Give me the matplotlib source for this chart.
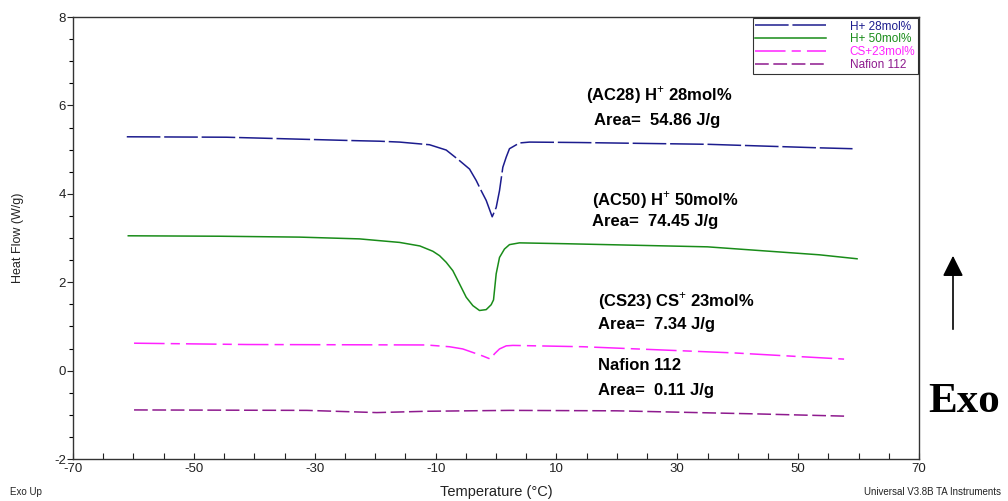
import matplotlib
matplotlib.use("Agg")
import matplotlib.pyplot as plt

# DSC heat-flow traces (temperature in degC, heat flow in W/g)
h28_temp = [-61.1, -44.6, -22.6, -19.3, -15.95, -11.0, -8.24, -6.03, -4.38, -3.27, -2.45, -1.62,
            -0.63, 0.03, 0.58, 1.13, 1.69, 2.23, 3.88, 5.54, 13.8, 35.0, 53.5, 59.0]
h28_flow = [5.29, 5.28, 5.20, 5.19, 5.17, 5.11, 4.99, 4.75, 4.56, 4.30, 4.07, 3.85,
            3.48, 3.69, 4.07, 4.60, 4.83, 5.02, 5.15, 5.17, 5.16, 5.12, 5.04, 5.02]

h50_temp = [-60.85, -45.7, -32.5, -22.6, -19.3, -15.95, -12.6, -10.45, -9.34, -8.24, -7.14, -6.03,
            -4.93, -3.83, -2.73, -1.62, -0.8, -0.41, 0.03, 0.58, 1.4, 2.23, 3.88, 11.7, 35.0, 53.5, 59.75]
h50_flow = [3.05, 3.04, 3.02, 2.98, 2.94, 2.90, 2.82, 2.70, 2.60, 2.45, 2.26, 1.96,
            1.66, 1.47, 1.36, 1.38, 1.49, 1.60, 2.19, 2.56, 2.75, 2.85, 2.89, 2.87, 2.80, 2.62, 2.53]

cs23_temp = [-59.9, -41.2, -11.55, -7.7, -5.5, -3.83, -2.18, -0.91, -0.25, 0.58, 1.69, 2.78, 14.4, 39.4, 57.6]
cs23_flow = [0.62, 0.59, 0.58, 0.54, 0.49, 0.41, 0.33, 0.26, 0.38, 0.49, 0.56, 0.57, 0.54, 0.40, 0.26]

nafion_temp = [-59.9, -31.3, -19.75, -11.5, 2.2, 20.0, 43.2, 57.6]
nafion_flow = [-0.89, -0.90, -0.95, -0.92, -0.90, -0.91, -0.98, -1.03]

series_labels = ["H+ 28mol%", "H+ 50mol%", "CS+23mol%", "Nafion 112"]
series_colors = ["#1c1c8e", "#198c19", "#ff22ff", "#8e1a8e"]

annotations = [
    ("(AC28) H$^{+}$ 28mol%", "Area=  54.86 J/g"),
    ("(AC50) H$^{+}$ 50mol%", "Area=  74.45 J/g"),
    ("(CS23) CS$^{+}$ 23mol%", "Area=  7.34 J/g"),
    ("Nafion 112", "Area=  0.11 J/g"),
]

plt.rcParams["font.family"] = ["Liberation Sans", "DejaVu Sans"]
plt.rcParams["mathtext.fontset"] = "custom"
plt.rcParams["mathtext.rm"] = "Liberation Sans"
plt.rcParams["mathtext.bf"] = "Liberation Sans:bold"
plt.rcParams["axes.unicode_minus"] = False

fig = plt.figure(figsize=(10.08, 5.01), dpi=100)
ax = fig.add_axes([73 / 1008, 1 - 459 / 501, (919 - 73) / 1008, (459 - 17) / 501])

styles = [(0, (22, 2.5)), "-", (0, (20, 4, 6, 4)), (0, (9, 3))]
data = [(h28_temp, h28_flow), (h50_temp, h50_flow), (cs23_temp, cs23_flow), (nafion_temp, nafion_flow)]
for (t, f), lab, col, ls in zip(data, series_labels, series_colors, styles):
    ax.plot(t, f, color=col, lw=1.1, ls=ls, label=lab)

ax.set_xlim(-70, 70)
ax.set_ylim(-2, 8)
ax.set_xticks(range(-70, 71, 20))
ax.set_xticks(range(-70, 71, 5), minor=True)
ax.set_yticks(range(-2, 9, 2))
ax.set_yticks([v / 2 for v in range(-4, 17)], minor=True)
ax.tick_params(axis="x", which="both", direction="in", length=4, width=0.8, labelsize=9.5, pad=3, colors="#222222")
ax.tick_params(axis="y", which="major", direction="out", length=4, width=0.8, labelsize=9.5, pad=1, colors="#222222")
ax.tick_params(axis="y", which="minor", direction="out", length=3, width=0.8)
for sp in ax.spines.values():
    sp.set_linewidth(1.0)
    sp.set_color("#333333")

fig.text(496 / 1008, 1 - 492 / 501, "Temperature (\u00b0C)", fontsize=10.5, color="#222222",
         ha="center", va="center")
fig.text(18 / 1008, 1 - 238 / 501, "Heat Flow (W/g)", fontsize=9, color="#222222",
         ha="center", va="center", rotation=90)

leg = ax.legend(loc="upper right", fontsize=8.5, frameon=True, fancybox=False,
                edgecolor="black", handlelength=6.0, handletextpad=2.0,
                borderpad=0.2, labelspacing=0.08, borderaxespad=0.1)
leg.get_frame().set_linewidth(0.8)
for txt, col in zip(leg.get_texts(), series_colors):
    txt.set_color(col)

# Peak annotations
ann_pos = [(586, 95, 594, 120), (592, 200, 592, 222), (598, 301, 598, 325), (598, 366, 598, 391)]
for (l1, l2), (x1, y1, x2, y2) in zip(annotations, ann_pos):
    fig.text(x1 / 1008, 1 - y1 / 501, l1, fontsize=12, fontweight="bold", va="center", ha="left")
    fig.text(x2 / 1008, 1 - y2 / 501, l2, fontsize=12, fontweight="bold", va="center", ha="left")

# Exo-up marker
fig.patches.append(matplotlib.patches.FancyArrowPatch(
    (953 / 1008, 1 - 332 / 501), (953 / 1008, 1 - 253 / 501), transform=fig.transFigure,
    arrowstyle="-|>,head_length=0.9,head_width=0.45", mutation_scale=14, color="black", lw=1.2))
fig.text(964 / 1008, 1 - 402 / 501, "Exo", fontsize=31, fontweight="bold",
         family=["Liberation Serif", "DejaVu Serif"], ha="center", va="center")

fig.text(10 / 1008, 1 - 492 / 501, "Exo Up", fontsize=7, color="#222222", va="center")
fig.text(1001 / 1008, 1 - 492 / 501, "Universal V3.8B TA Instruments", fontsize=7,
         color="#222222", va="center", ha="right")

fig.savefig("out.png", dpi=100)
